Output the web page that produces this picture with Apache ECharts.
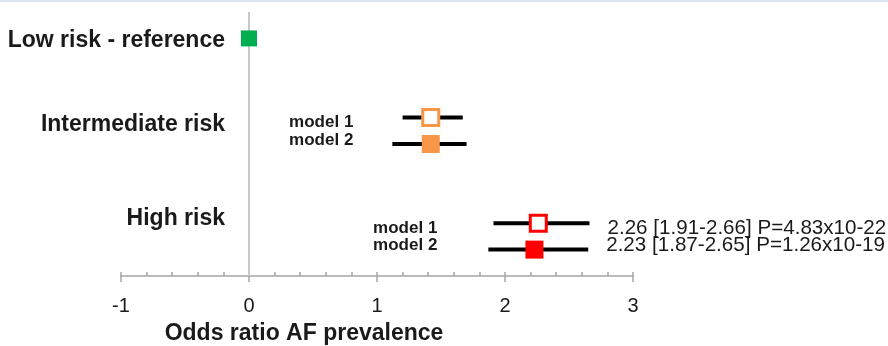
<!DOCTYPE html>
<html>
<head>
<meta charset="utf-8">
<script src="https://cdn.jsdelivr.net/npm/echarts@6/dist/echarts.min.js"></script>
<style>
  html, body { margin: 0; padding: 0; background: #fff; }
  #chart { width: 888px; height: 346px; }
</style>
</head>
<body>
<div id="chart"></div>
<script>
// risk groups, row = vertical slot on the hidden y scale
const groupNames = ['Low risk - reference', 'Intermediate risk', 'High risk'];
const groupRows = [1, 4.2, 7.75];

// reference category
const refValue = 0;
const refRow = 1;

// models per risk group
const modelNames = ['model 1', 'model 2', 'model 1', 'model 2'];
const modelGroup = [1, 1, 2, 2];
const modelRows = [4, 5, 8, 9];
const oddsRatio = [1.42, 1.42, 2.26, 2.23];
const ciLow = [1.20, 1.12, 1.91, 1.87];
const ciHigh = [1.67, 1.70, 2.66, 2.65];
const pValues = ['', '', '4.83x10-22', '1.26x10-19'];

const xMin = -1, xMax = 3, xStep = 1;
const yMin = 0, yMax = 10;

const FONT = 'Liberation Sans, Arial, sans-serif';
const TXT = '#1a1a1a';
const groupColors = ['#00b050', '#f79646', '#ff0000'];
const labelGap = [0, 39, 51];   // gap between "model" labels and the whiskers, px
const textShift = [5, -4];      // vertical nudge of texts for model 1 / model 2

const chart = echarts.init(document.getElementById('chart'));

const modelData = modelNames.map((m, i) => [modelRows[i], ciLow[i], ciHigh[i], oddsRatio[i], i]);
const groupData = groupNames.map((g, i) => [refValue, groupRows[i], i]);

function renderRefLine(params, api) {
    const a = api.coord([api.value(0), yMin]);
    const b = api.coord([api.value(0), yMax]);
    return {
        type: 'line',
        shape: { x1: a[0], y1: a[1], x2: b[0], y2: b[1] },
        style: { stroke: '#c8c8c8', lineWidth: 2 }
    };
}

function renderModel(params, api) {
    const i = api.value(4);
    const row = api.value(0);
    const lo = api.coord([api.value(1), row]);
    const hi = api.coord([api.value(2), row]);
    const pt = api.coord([api.value(3), row]);
    const g = modelGroup[i];
    const color = groupColors[g];
    const hollow = modelNames[i] === 'model 1';
    const shift = textShift[hollow ? 0 : 1];
    // leftmost whisker of the group decides where the labels go
    const groupLo = Math.min.apply(null, ciLow.filter((v, k) => modelGroup[k] === g));
    const labelX = api.coord([groupLo, row])[0] - labelGap[g];
    const children = [
        {
            type: 'line',
            shape: { x1: lo[0], y1: lo[1], x2: hi[0], y2: hi[1] },
            style: { stroke: '#000', lineWidth: 4 }
        },
        {
            type: 'rect',
            shape: hollow ? { x: pt[0] - 8, y: pt[1] - 8, width: 16, height: 16 }
                          : { x: pt[0] - 9, y: pt[1] - 9, width: 18, height: 18 },
            style: hollow ? { fill: '#fff', stroke: color, lineWidth: 3 } : { fill: color }
        },
        {
            type: 'text',
            x: labelX, y: pt[1] + shift,
            style: {
                text: modelNames[i], fill: TXT, font: 'bold 17px ' + FONT,
                align: 'right', verticalAlign: 'middle'
            }
        }
    ];
    if (pValues[i]) {
        const txt = oddsRatio[i].toFixed(2) + ' [' + ciLow[i].toFixed(2) + '-' + ciHigh[i].toFixed(2) + '] P=' + pValues[i];
        children.push({
            type: 'text',
            x: hi[0] + 18, y: hi[1] + shift,
            style: {
                text: txt, fill: TXT, font: '20.6px ' + FONT,
                align: 'left', verticalAlign: 'middle'
            }
        });
    }
    return { type: 'group', children: children };
}

function renderGroup(params, api) {
    const p = api.coord([api.value(0), api.value(1)]);
    return {
        type: 'text',
        x: p[0] - 24, y: p[1] + 2,
        style: {
            text: groupNames[api.value(2)], fill: TXT, font: 'bold 23px ' + FONT,
            align: 'right', verticalAlign: 'middle'
        }
    };
}

const axisGray = '#a6a6a6';

chart.setOption({
    animation: false,
    backgroundColor: '#fff',
    graphic: [{
        type: 'rect', left: 0, top: 0,
        shape: { width: 888, height: 2 },
        style: { fill: '#d9e7f3' }
    }],
    grid: { left: 121, right: 255, top: 12, bottom: 70, containLabel: false, outerBoundsMode: 'none' },
    xAxis: [
        {
            type: 'value', min: xMin, max: xMax, interval: xStep, position: 'bottom',
            axisLine: { show: true, onZero: false, lineStyle: { color: axisGray, width: 1.5 } },
            axisTick: { show: true, inside: true, length: 4, lineStyle: { color: axisGray, width: 1.5 } },
            minorTick: { show: true, splitNumber: 5, length: 4, lineStyle: { color: axisGray, width: 1.5 } },
            splitLine: { show: false },
            axisLabel: { fontSize: 20, color: TXT, fontFamily: FONT, margin: 20 },
            name: 'Odds ratio AF prevalence',
            nameLocation: 'middle',
            nameGap: 46,
            nameTextStyle: { fontSize: 23, fontWeight: 'bold', color: TXT, fontFamily: FONT, padding: [0, 146, 0, 0] }
        },
        {
            type: 'value', min: xMin, max: xMax, interval: xStep, position: 'bottom', offset: 0,
            axisLine: { show: false, onZero: false },
            axisTick: { show: true, inside: false, length: 6, lineStyle: { color: axisGray, width: 1.5 } },
            axisLabel: { show: false },
            splitLine: { show: false }
        }
    ],
    yAxis: {
        type: 'value', min: yMin, max: yMax, inverse: true, show: false
    },
    series: [
        {
            type: 'custom', z: 1, silent: true, clip: false,
            renderItem: renderRefLine,
            data: [[refValue]]
        },
        {
            type: 'scatter', z: 3, silent: true,
            symbol: 'rect', symbolSize: 16,
            itemStyle: { color: groupColors[0], opacity: 1 },
            data: [[refValue, refRow]]
        },
        {
            type: 'custom', z: 3, silent: true, clip: false,
            renderItem: renderModel,
            data: modelData
        },
        {
            type: 'custom', z: 3, silent: true, clip: false,
            renderItem: renderGroup,
            data: groupData
        }
    ]
});
</script>
</body>
</html>
